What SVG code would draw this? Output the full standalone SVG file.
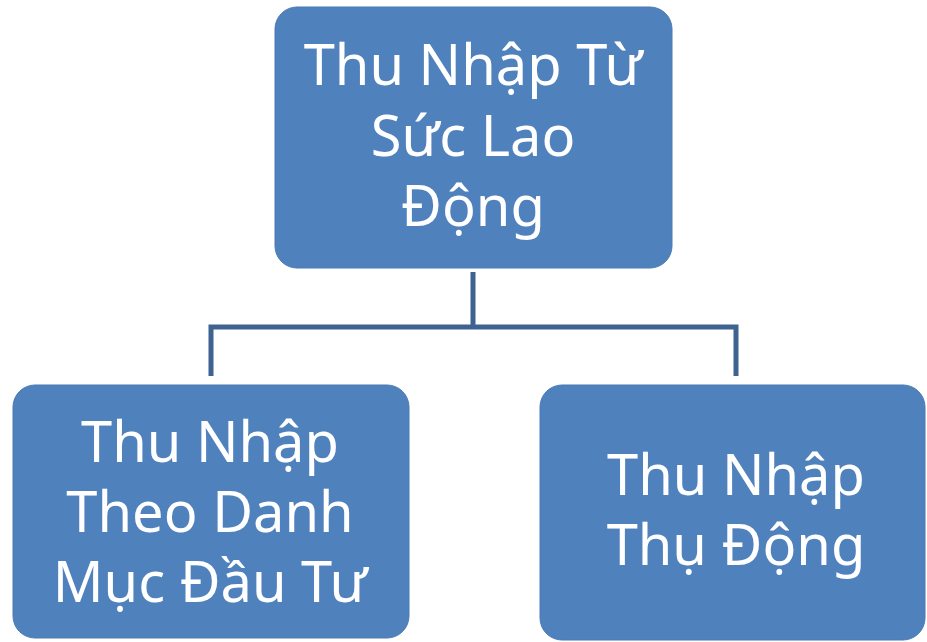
<svg xmlns="http://www.w3.org/2000/svg" width="927" height="642" viewBox="0 0 927 642">
<style>
.box{fill:#4f81bd;stroke:#4a7ab4;stroke-width:1}
.t{font-family:"Noto Sans","Open Sans","DejaVu Sans",sans-serif;font-size:56px;fill:#ffffff;text-anchor:middle}
.c{fill:none;stroke:#3f6391;stroke-width:5;stroke-linecap:butt;stroke-linejoin:miter}
</style>
<rect width="927" height="642" fill="#ffffff"/>
<g id="connectors">
<path class="c" d="M473 272 V327"/>
<path class="c" d="M211 376 V327 H736 V376"/>
</g>
<g id="top">
<rect class="box" x="275" y="7" width="397" height="261" rx="22"/>
<text class="t" x="473" y="85">Thu Nhập Từ</text>
<text class="t" x="473" y="156">Sức Lao</text>
<text class="t" x="473" y="226">Động</text>
</g>
<g id="left">
<rect class="box" x="13" y="385" width="396" height="253" rx="22"/>
<text class="t" x="210" y="462">Thu Nhập</text>
<text class="t" x="210" y="532">Theo Danh</text>
<text class="t" x="210" y="602">Mục Đầu Tư</text>
</g>
<g id="right">
<rect class="box" x="540" y="385" width="385" height="255" rx="22"/>
<text class="t" x="736" y="495">Thu Nhập</text>
<text class="t" x="736" y="565">Thụ Động</text>
</g>
</svg>
